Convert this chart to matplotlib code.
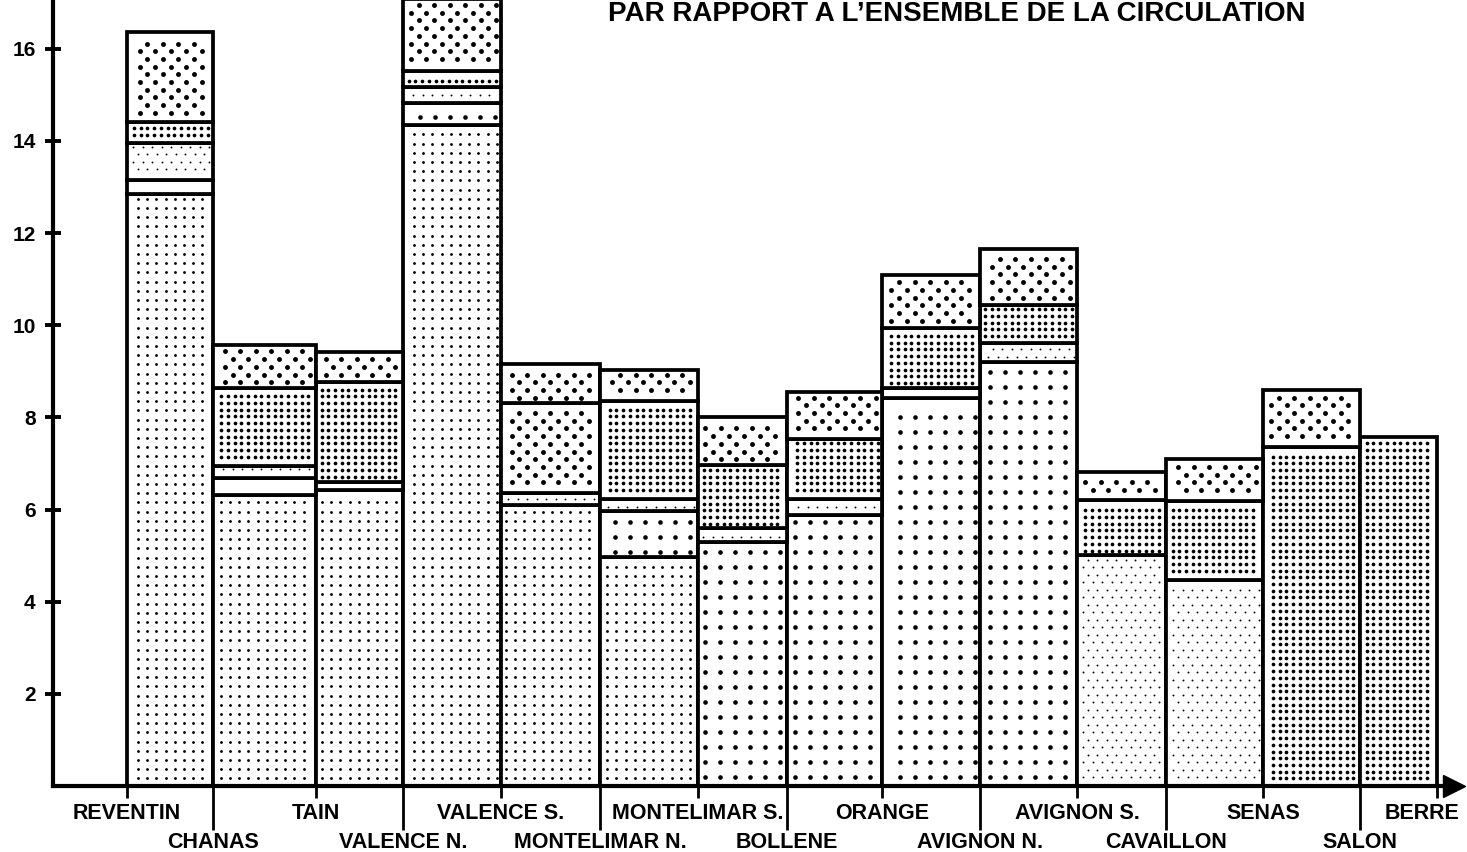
import numpy as np
import matplotlib
matplotlib.use("Agg")
import matplotlib.pyplot as plt

plt.rcParams['font.family'] = ['Liberation Sans', 'DejaVu Sans']
plt.rcParams['font.weight'] = 'bold'

# Interchanges along the motorway and their position (km-like scale)
stations = ['REVENTIN', 'CHANAS', 'TAIN', 'VALENCE N.', 'VALENCE S.',
            'MONTELIMAR N.', 'MONTELIMAR S.', 'BOLLENE', 'ORANGE',
            'AVIGNON N.', 'AVIGNON S.', 'CAVAILLON', 'SENAS', 'SALON', 'BERRE']
station_pk = [7.4, 16.0, 26.3, 35.0, 44.8, 54.7, 64.5, 73.4, 82.9,
              92.7, 102.4, 111.3, 121.0, 130.7, 138.4]

# Share (%) of each traffic class per section, stacked bottom to top
part_fine = [12.86, 6.32, 6.42, 14.34, 6.10, 4.96, 0, 0, 0, 0, 0, 0, 0, 0]
part_large = [0.29, 0.36, 0, 0.48, 0, 1.01, 5.30, 5.88, 8.43, 9.21, 0, 0, 0, 0]
part_light = [0.81, 0.27, 0.18, 0.35, 0.26, 0.27, 0.29, 0.35, 0.21, 0.40,
              5.01, 4.47, 0, 0]
part_grid = [0.45, 1.69, 2.17, 0.35, 1.96, 2.11, 1.38, 1.30, 1.29, 0.83,
             1.20, 1.71, 7.36, 7.58]
part_stag = [1.95, 0.94, 0.65, 1.56, 0.83, 0.69, 1.03, 1.03, 1.16, 1.21,
             0.60, 0.91, 1.23, 0]

layers = [part_fine, part_large, part_light, part_grid, part_stag]

# dot screens (spacing and dot diameter in pixels)
screens = [
    dict(dx=9.2, dy=9.2, stagger=False, d=2.8),
    dict(dx=15.0, dy=15.0, stagger=False, d=4.6),
    dict(dx=9.5, dy=7.5, stagger=True, d=1.9),
    dict(dx=6.7, dy=6.7, stagger=False, d=3.7),
    dict(dx=15.5, dy=7.7, stagger=True, d=4.9),
]
# the middle block of VALENCE S. - MONTELIMAR N. uses the staggered screen
screen_override = {(4, 3): 4}

fig = plt.figure(figsize=(14.67, 8.52), dpi=100)
ax = fig.add_axes([53 / 1467, 66 / 852, 1414 / 1467, 786 / 852])
ax.set_xlim(0, 141.4)
ax.set_ylim(0, 17.06)

LW = 2.7


def dot_screen(x0, x1, y0, y1, dx, dy, stagger, d):
    tr = ax.transData
    (px0, py0), (px1, py1) = tr.transform([(x0, y0), (x1, y1)])
    m = LW * 100 / 72 / 2 + d / 2 + 0.5
    pts = []
    for r in np.arange(np.floor(py0 / dy), np.ceil(py1 / dy) + 1):
        y = r * dy
        if y < py0 + m or y > py1 - m:
            continue
        off = dx / 2 if (stagger and int(r) % 2) else 0.0
        xs = np.arange(np.floor(px0 / dx) - 1, np.ceil(px1 / dx) + 2) * dx + off
        xs = xs[(xs > px0 + m) & (xs < px1 - m)]
        pts.extend((x, y) for x in xs)
    if not pts:
        return
    xy = tr.inverted().transform(pts)
    ax.scatter(xy[:, 0], xy[:, 1], s=(d * 0.72) ** 2, c='black',
               linewidths=0, zorder=2)


left = np.array(station_pk[:-1])
width = np.diff(station_pk)
bottom = np.zeros(len(left))
for k, vals in enumerate(layers):
    vals = np.array(vals, dtype=float)
    keep = vals > 0
    ax.bar(left[keep], vals[keep], width=width[keep], bottom=bottom[keep],
           align='edge', facecolor='white', edgecolor='black',
           linewidth=LW, zorder=1)
    for i in np.where(keep)[0]:
        sc = screens[screen_override.get((i, k), k)]
        dot_screen(left[i], left[i] + width[i], bottom[i], bottom[i] + vals[i],
                   **sc)
    bottom = bottom + vals

# axes
for s in ['top', 'right']:
    ax.spines[s].set_visible(False)
ax.spines['left'].set_linewidth(3.0)
ax.spines['bottom'].set_linewidth(3.0)
ax.spines['bottom'].set_bounds(0, 140.0)
ax.plot(1 - 13 / 1414, 0, marker='>', ms=16, color='black',
        transform=ax.transAxes, clip_on=False, zorder=5)

ax.set_yticks(np.arange(2, 17, 2))
ax.tick_params(axis='y', direction='inout', length=12.2, width=2.8, pad=6.5,
               labelsize=15)

ax.set_xticks(station_pk[0::2])
ax.set_xticks(station_pk[1::2], minor=True)
ax.tick_params(axis='x', which='major', direction='out', length=8.6,
               width=2.0, labelbottom=False)
ax.tick_params(axis='x', which='minor', direction='out', length=31.7,
               width=2.0, labelbottom=False)

for i, (name, pk) in enumerate(zip(stations, station_pk)):
    dy = -44.6 if i % 2 else -23.8
    if i == len(stations) - 1:
        ax.annotate(name, xy=(pk, 0), xytext=(16, dy), textcoords='offset points',
                    ha='right', va='baseline', fontsize=15.5, fontweight='bold',
                    annotation_clip=False)
    else:
        ax.annotate(name, xy=(pk, 0), xytext=(0, dy), textcoords='offset points',
                    ha='center', va='baseline', fontsize=15.5, fontweight='bold',
                    annotation_clip=False)

fig.text(956.5 / 1467, 0.999, 'PAR RAPPORT A L’ENSEMBLE DE LA CIRCULATION',
         ha='center', va='top', fontsize=20, fontweight='bold')

fig.savefig('out.png', dpi=100)
